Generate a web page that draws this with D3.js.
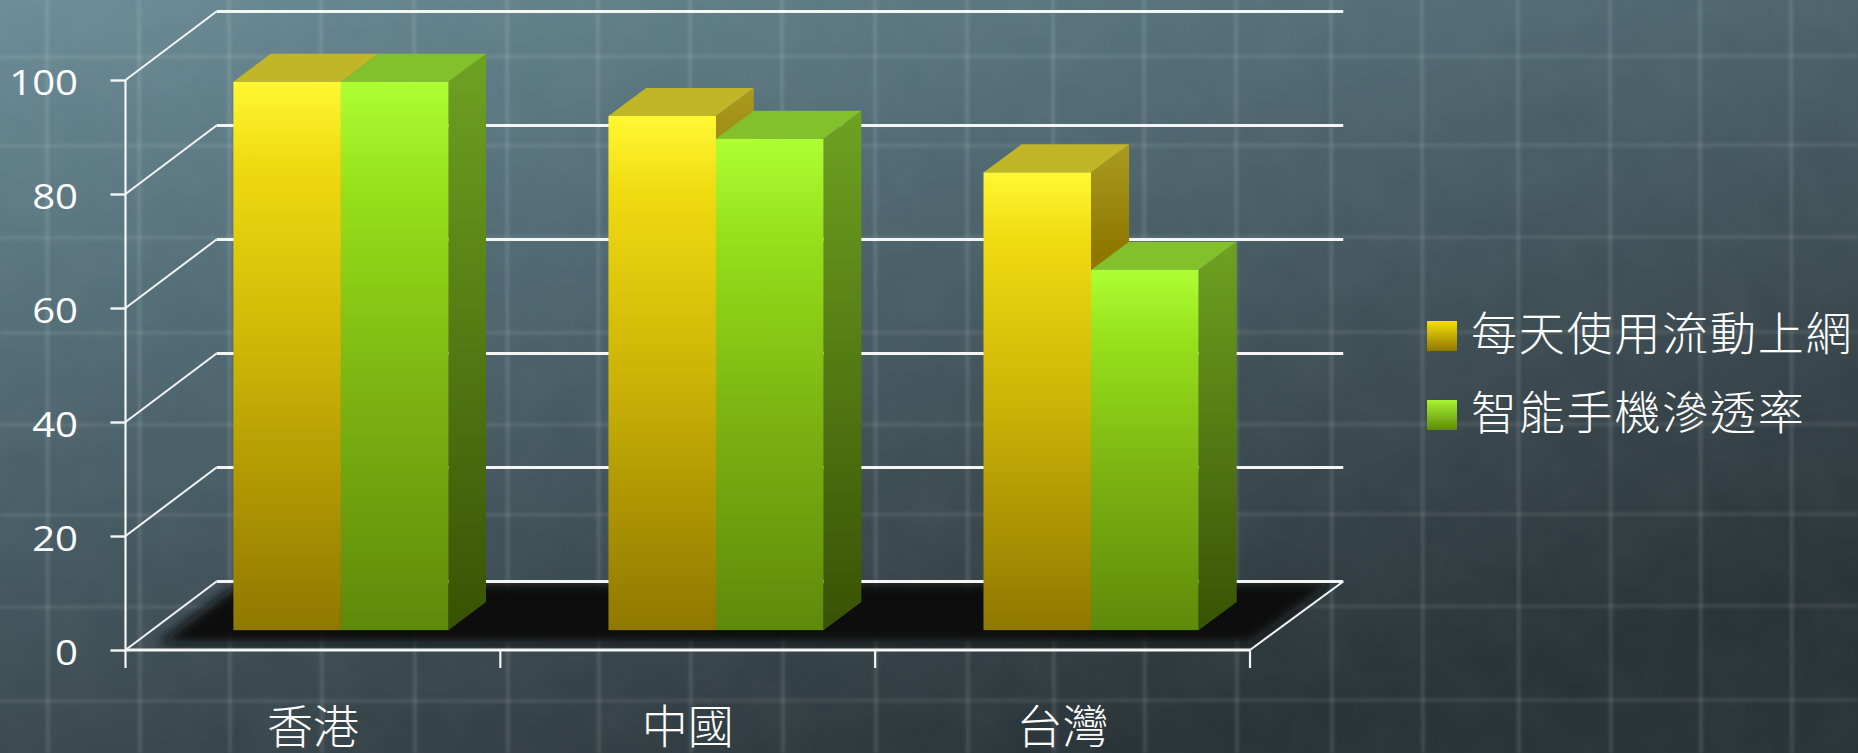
<!DOCTYPE html>
<html>
<head>
<meta charset="utf-8">
<script src="https://cdnjs.cloudflare.com/ajax/libs/d3/7.8.5/d3.min.js"></script>
<style>
  html, body { margin: 0; padding: 0; background: #3c4c53; overflow: hidden; }
  svg { display: block; }
</style>
</head>
<body>
<svg id="chart"></svg>
<script>
var categories = ['香港', '中國', '台灣']
var seriesNames = ['每天使用流動上網', '智能手機滲透率']
var dailyMobile = [96.2, 90.2, 80.3]
var smartphone = [96.2, 86.2, 63.2]
var yTicks = [0, 20, 40, 60, 80, 100]
// 背景圖上的格線
var bgVertical = [47, 139, 229, 321, 414, 507, 598, 690, 782, 875, 967, 1053, 1144, 1236, 1331, 1422, 1518, 1610, 1700, 1791]
var bgHorizontal = [57, 146, 238, 333, 425, 515, 607, 701]

var width = 1858
var height = 753
var svg = d3.select('#chart').attr('width', width).attr('height', height)
var defs = svg.append('defs')

function gradient(id, stops, x1, y1, x2, y2) {
  var g = defs.append('linearGradient').attr('id', id)
    .attr('x1', x1 || '0').attr('y1', y1 || '0').attr('x2', x2 || '0').attr('y2', y2 === undefined ? '1' : y2)
  stops.forEach(function (s) {
    g.append('stop').attr('offset', s[0]).attr('stop-color', s[1])
  })
}
gradient('bg', [[0, '#6c8d98'], [0.3, '#54707a'], [0.65, '#3e4f56'], [1, '#283236']], '0', '0', '0.6', '1')
gradient('yellowFront', [[0, '#fff833'], [0.15, '#f0da10'], [0.5, '#cdb406'], [1, '#8f7800']])
gradient('greenFront', [[0, '#adff33'], [0.2, '#96e01a'], [0.55, '#7db512'], [1, '#5e8a0a']])
gradient('yellowSide', [[0, '#aa9c20'], [0.22, '#8e7800'], [1, '#7c6a00']])
gradient('greenSide', [[0, '#6ea222'], [1, '#385204']])
gradient('yellowLegend', [[0, '#f7e00a'], [1, '#8f7800']])
gradient('greenLegend', [[0, '#a8f530'], [1, '#5e8a0a']])

var soft = defs.append('filter').attr('id', 'soft').attr('x', '-5%').attr('y', '-5%').attr('width', '110%').attr('height', '110%')
soft.append('feGaussianBlur').attr('stdDeviation', 1.5)
var floorBlur = defs.append('filter').attr('id', 'floorBlur').attr('x', '-10%').attr('y', '-30%').attr('width', '120%').attr('height', '160%')
floorBlur.append('feGaussianBlur').attr('stdDeviation', 6)
var grain = defs.append('filter').attr('id', 'grain').attr('x', 0).attr('y', 0).attr('width', '100%').attr('height', '100%')
grain.append('feTurbulence').attr('type', 'fractalNoise').attr('baseFrequency', 0.02).attr('numOctaves', 3).attr('seed', 4)
grain.append('feColorMatrix').attr('type', 'saturate').attr('values', 0)

svg.append('rect').attr('width', width).attr('height', height).attr('fill', 'url(#bg)')
svg.append('rect').attr('width', width).attr('height', height).attr('filter', 'url(#grain)').attr('opacity', 0.05)

// 背景格線
var bgGrid = svg.append('g').attr('filter', 'url(#soft)').attr('stroke', '#fff').attr('stroke-width', 3.5)
bgGrid.selectAll('.v').data(bgVertical).enter().append('line').attr('class', 'v')
  .attr('x1', function (d) { return d }).attr('x2', function (d) { return d + 1 })
  .attr('y1', 0).attr('y2', height).attr('stroke-opacity', 0.12)
bgGrid.selectAll('.h').data(bgHorizontal).enter().append('line').attr('class', 'h')
  .attr('x1', 0).attr('x2', width)
  .attr('y1', function (d) { return d }).attr('y2', function (d) { return d - 1 }).attr('stroke-opacity', 0.09)

// 比例尺
var y = d3.scaleLinear().domain([0, 100]).range([650, 80])
var x0 = d3.scaleBand().domain(categories).range([125.5, 1250])
var x1 = d3.scaleBand().domain(seriesNames).range([1.5, x0.bandwidth() + 1.5]).paddingInner(0).paddingOuter(0.744)

// 深度方向 z: 0 前面, 1 後面
var depthX = 91
var depthY = 68.5
var px = function (x, z) { return x + z * (depthX + (x - x0.range()[0]) * 0.002) }
var py = function (v, z) { return y(v) - depthY * z }
var barFront = 0.29
var barBack = 0.7
var xLeft = x0.range()[0]
var xRight = x0.range()[1]
var axisColor = '#f4f6f6'

// 地板
function floorPoints(l, r, zNear, zFar) {
  return [[l, zNear], [r, zNear], [r, zFar], [l, zFar]].map(function (p) { return [px(p[0], p[1]), py(0, p[1])] }).join(' ')
}
defs.append('clipPath').attr('id', 'floorClip').append('polygon').attr('points', floorPoints(xLeft, xRight, 0, 1))
svg.append('g').attr('clip-path', 'url(#floorClip)')
  .append('polygon').attr('points', floorPoints(xLeft + 24, xRight - 8, 0.09, 1))
  .attr('fill', '#090e10').attr('filter', 'url(#floorBlur)')

// 牆上的橫線
var wall = svg.append('g').attr('fill', 'none').attr('stroke', axisColor)
wall.selectAll('.back').data(yTicks).enter().append('line').attr('class', 'back')
  .attr('x1', px(xLeft, 1)).attr('x2', px(xRight, 1))
  .attr('y1', function (d) { return py(d, 1) }).attr('y2', function (d) { return py(d, 1) })
  .attr('stroke-width', 2.8)
wall.selectAll('.diag').data(yTicks).enter().append('line').attr('class', 'diag')
  .attr('x1', xLeft).attr('x2', px(xLeft, 1))
  .attr('y1', function (d) { return py(d, 0) }).attr('y2', function (d) { return py(d, 1) })
  .attr('stroke-width', 2)
wall.append('line')
  .attr('x1', xRight).attr('x2', px(xRight, 1))
  .attr('y1', py(0, 0)).attr('y2', py(0, 1))
  .attr('stroke-width', 2)

// 立體柱
var seriesValues = [dailyMobile, smartphone]
var frontFill = ['url(#yellowFront)', 'url(#greenFront)']
var sideFill = ['url(#yellowSide)', 'url(#greenSide)']
var topFill = ['#c1b528', '#82c02c']

var bars = []
seriesNames.forEach(function (name, s) {
  categories.forEach(function (c, i) {
    bars.push({ s: s, left: x0(c) + x1(name), right: x0(c) + x1(name) + x1.bandwidth(), v: seriesValues[s][i] })
  })
})
var barG = svg.selectAll('.bar').data(bars).enter().append('g').attr('class', 'bar')
barG.append('polygon').attr('fill', function (d) { return sideFill[d.s] })
  .attr('points', function (d) {
    return [[px(d.right, barFront), py(d.v, barFront)], [px(d.right, barBack), py(d.v, barBack)],
      [px(d.right, barBack), py(0, barBack)], [px(d.right, barFront), py(0, barFront)]].join(' ')
  })
barG.append('polygon').attr('fill', function (d) { return topFill[d.s] })
  .attr('points', function (d) {
    return [[px(d.left, barFront), py(d.v, barFront)], [px(d.right, barFront), py(d.v, barFront)],
      [px(d.right, barBack), py(d.v, barBack)], [px(d.left, barBack), py(d.v, barBack)]].join(' ')
  })
barG.append('rect').attr('fill', function (d) { return frontFill[d.s] })
  .attr('x', function (d) { return px(d.left, barFront) })
  .attr('y', function (d) { return py(d.v, barFront) })
  .attr('width', function (d) { return px(d.right, barFront) - px(d.left, barFront) })
  .attr('height', function (d) { return py(0, barFront) - py(d.v, barFront) })

var latin = '"Open Sans", Lato, sans-serif'
var cjk = '"Noto Sans CJK TC", "Noto Sans CJK SC", sans-serif'

// y 軸
var yAxis = svg.append('g').attr('transform', 'translate(125.5,0)')
  .call(d3.axisLeft(y).tickValues(yTicks).tickSize(15))
yAxis.select('.domain').remove()
yAxis.append('line').attr('x1', 0).attr('x2', 0).attr('y1', y(100)).attr('y2', 668).attr('stroke', axisColor).attr('stroke-width', 2.2)
yAxis.selectAll('.tick line').attr('stroke', axisColor).attr('stroke-width', 2.4)
var labelStretch = 1.18
yAxis.selectAll('.tick text').attr('fill', '#fff').attr('font-family', latin).attr('font-size', 34).attr('font-weight', 400)
  .attr('x', -47.5 / labelStretch).attr('dy', '0.42em')
  .attr('transform', 'scale(' + labelStretch + ',1)')

// x 軸
var xAxis = svg.append('g').attr('transform', 'translate(0,650)')
  .call(d3.axisBottom(x0).tickSize(0).tickPadding(60))
xAxis.select('.domain').remove()
xAxis.append('line').attr('x1', xLeft).attr('x2', xRight).attr('stroke', axisColor).attr('stroke-width', 2.8)
xAxis.selectAll('.mark').data(d3.range(1, categories.length + 1)).enter().append('line').attr('class', 'mark')
  .attr('x1', function (d) { return xLeft + d * x0.step() })
  .attr('x2', function (d) { return xLeft + d * x0.step() })
  .attr('y1', 0).attr('y2', 18).attr('stroke', axisColor).attr('stroke-width', 2.2)
xAxis.selectAll('.tick text').attr('fill', '#fff').attr('font-family', cjk).attr('font-size', 46).attr('font-weight', 300).attr('dy', '0.72em')

// 圖例
var legendY = d3.scaleBand().domain(seriesNames).range([321, 479]).paddingInner(0)
var legendFill = ['url(#yellowLegend)', 'url(#greenLegend)']
var legend = svg.selectAll('.legend').data(seriesNames).enter().append('g').attr('class', 'legend')
  .attr('transform', function (d) { return 'translate(1427,' + legendY(d) + ')' })
legend.append('rect').attr('width', 30).attr('height', 30).attr('fill', function (d, i) { return legendFill[i] })
legend.append('text').attr('x', 44).attr('y', 29).attr('fill', '#fff')
  .attr('font-family', cjk).attr('font-size', 46).attr('font-weight', 300).attr('letter-spacing', 1.8)
  .text(function (d) { return d })
</script>
</body>
</html>
